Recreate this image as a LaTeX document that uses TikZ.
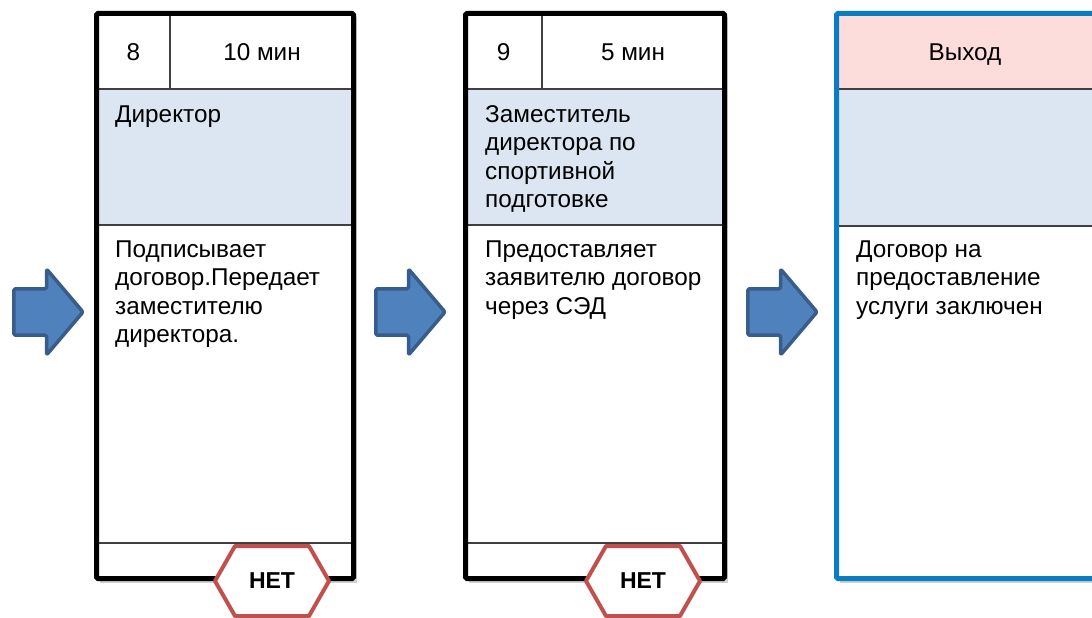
\documentclass[tikz,border=0pt]{standalone}
\usepackage{fontspec}
\setmainfont{Liberation Sans}
\usetikzlibrary{calc}
\definecolor{bandblue}{HTML}{DCE6F2}
\definecolor{pinkhead}{HTML}{FDDCDC}
\definecolor{arrowfill}{HTML}{4F81BD}
\definecolor{arrowline}{HTML}{385D8A}
\definecolor{outblue}{HTML}{0A7CC2}
\definecolor{hexred}{HTML}{C0504D}
\tikzset{
  txt/.style={font=\fontsize{24.3}{28.5}\selectfont, inner sep=0pt, anchor=base west, align=left},
  ctxt/.style={font=\fontsize{24.3}{28.5}\selectfont, inner sep=0pt, anchor=base},
  hextxt/.style={font=\fontsize{23}{26}\selectfont\bfseries, inner sep=0pt},
  thinline/.style={draw=black!75, line width=1.2pt},
  frame/.style={line width=5pt, rounded corners=1.5pt},
  shade/.style={fill=black, opacity=0.18},
  hexshape/.style={draw=hexred, fill=white, line width=4pt, line join=round},
  blockarrow/.pic={
    \draw[fill=arrowfill, draw=arrowline, line width=3.5pt, line join=round, rounded corners=1.5pt]
      (1.8,288.8) -- (34.5,288.8) -- (34.5,269) -- (71,312) -- (34.5,355)
      -- (34.5,335.2) -- (1.8,335.2) -- cycle;
  }
}
\begin{document}
\begin{tikzpicture}[x=1pt,y=-1pt]
\useasboundingbox (0,0) rectangle (1092,618);
\fill[white] (0,0) rectangle (1092,618);

% ---------- arrows ----------
\pic at (12,0) {blockarrow};
\pic at (374,0) {blockarrow};
\pic at (746,0) {blockarrow};

% ---------- box 1 ----------
\fill[shade] (99.5,17) rectangle (357,582.5);
\fill[white] (96.5,13.5) rectangle (353.5,578.5);
\fill[bandblue] (96.5,89) rectangle (353.5,225);
\draw[thinline] (96.5,89) -- (353.5,89);
\draw[thinline] (96.5,225) -- (353.5,225);
\draw[thinline] (96.5,543) -- (353.5,543);
\draw[thinline] (170,13.5) -- (170,89);
\draw[frame] (96.5,13.5) rectangle (353.5,578.5);
\node[ctxt] (b1num) at (133.5,60) {8};
\node[ctxt] (b1time) at (262,60) {10 мин};
\node[txt] (b1role) at (115,122) {Директор};
\node[txt] (b1act) at (115,342.5) {Подписывает\\договор.Передает\\заместителю\\директора.};
\draw[hexshape] (215,581) -- (235,546) -- (309,546) -- (329,581) -- (309,616) -- (235,616) -- cycle;
\node[hextxt] (b1het) at (272,581) {НЕТ};

% ---------- box 2 ----------
\fill[shade] (468.5,17) rectangle (728,582.5);
\fill[white] (465.5,13.5) rectangle (724.5,578.5);
\fill[bandblue] (465.5,89) rectangle (724.5,225);
\draw[thinline] (465.5,89) -- (724.5,89);
\draw[thinline] (465.5,225) -- (724.5,225);
\draw[thinline] (465.5,543) -- (724.5,543);
\draw[thinline] (542,13.5) -- (542,89);
\draw[frame] (465.5,13.5) rectangle (724.5,578.5);
\node[ctxt] (b2num) at (503.7,60) {9};
\node[ctxt] (b2time) at (633,60) {5 мин};
\node[txt] (b2role) at (485,207.5) {Заместитель\\директора по\\спортивной\\подготовке};
\node[txt] (b2act) at (485,314) {Предоставляет\\заявителю договор\\через СЭД};
\draw[hexshape] (586,581) -- (606,546) -- (680,546) -- (700,581) -- (680,616) -- (606,616) -- cycle;
\node[hextxt] (b2het) at (643,581) {НЕТ};

% ---------- box 3 ----------
\fill[shade] (839.5,17) rectangle (1110,582.5);
\fill[white] (836.5,13.5) rectangle (1100,578.5);
\fill[pinkhead] (836.5,13.5) rectangle (1100,89);
\fill[bandblue] (836.5,89) rectangle (1100,226);
\draw[thinline] (836.5,89) -- (1100,89);
\draw[thinline] (836.5,226) -- (1100,226);
\draw[frame, draw=outblue] (836.5,13.5) rectangle (1100,578.5);
\node[ctxt] (b3head) at (965,60) {Выход};
\node[txt] (b3act) at (856,314) {Договор на\\предоставление\\услуги заключен};
\end{tikzpicture}
\end{document}
